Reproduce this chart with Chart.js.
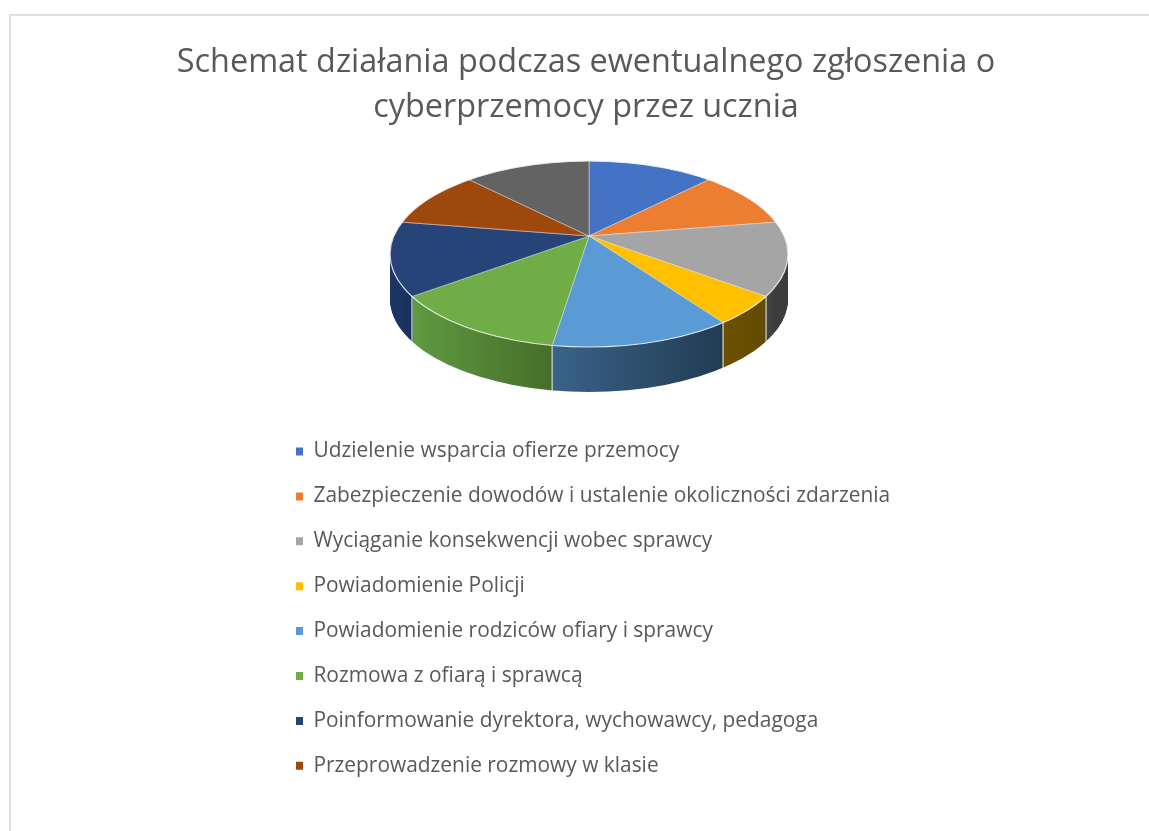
<!DOCTYPE html>
<html lang="pl">
<head>
<meta charset="utf-8">
<style>
html,body{margin:0;padding:0;background:#fff;overflow:hidden;width:1149px;height:831px}
#frame{position:absolute;left:9px;top:14px;width:1140px;height:817px;border-left:2px solid #dedede;border-top:2px solid #dedede;overflow:visible}
canvas{position:absolute;left:1px;top:0}
</style>
<script src="https://cdn.jsdelivr.net/npm/chart.js@4"></script>
</head>
<body>
<div id="frame"><canvas id="c" width="1148" height="815"></canvas></div>
<script>
const titleLines = ["Schemat działania podczas ewentualnego zgłoszenia o", "cyberprzemocy przez ucznia"];
const categories = [
  "Udzielenie wsparcia ofierze przemocy",
  "Zabezpieczenie dowodów i ustalenie okoliczności zdarzenia",
  "Wyciąganie konsekwencji wobec sprawcy",
  "Powiadomienie Policji",
  "Powiadomienie rodziców ofiary i sprawcy",
  "Rozmowa z ofiarą i sprawcą",
  "Poinformowanie dyrektora, wychowawcy, pedagoga",
  "Przeprowadzenie rozmowy w klasie",
  ""
];
const values = [5, 4, 5, 2, 5, 5, 5, 4, 5];
const colors = ["#4472C4","#ED7D31","#A5A5A5","#FFC000","#5B9BD5","#70AD47","#264478","#9E480E","#636363"];
const wallLeft  = ["#2a4576","#8f4b1d","#454545","#6b5100","#3b6288","#5f9a40","#1c3463","#5f2b08","#3c3c3c"];
const wallRight = ["#2a4576","#8f4b1d","#3c3c3c","#624a00","#213c52","#466e2a","#1a3058","#5f2b08","#3c3c3c"];

const TEXT = "#595959";
const FONT = "'Open Sans', 'Noto Sans', sans-serif";

// Projection of the flat pie into the tilted view (canvas pixels)
const view = {ax:577, ay:220, cx:577, cy:238, rx:199, ry:93, depth:45, reach:260, squash:0.47};
const legendShift = 260;

function rimPoint(angle){
  const dx = view.reach*Math.cos(angle), dy = view.reach*view.squash*Math.sin(angle);
  const oy = view.ay - view.cy, a = dx*dx/(view.rx*view.rx) + dy*dy/(view.ry*view.ry);
  const b = 2*dy*oy/(view.ry*view.ry), c = oy*oy/(view.ry*view.ry) - 1;
  const t = (-b + Math.sqrt(b*b - 4*a*c))/(2*a);
  return {x:view.ax + t*dx, y:view.ay + t*dy};
}

const tiltedPie = {
  id:"tiltedPie",
  afterLayout(chart){
    chart.legend.left += legendShift;
    chart.legend.right += legendShift;
  },
  beforeDatasetsDraw(chart){
    const ctx = chart.ctx, arcs = chart.getDatasetMeta(0).data;
    const R = arcs[0].outerRadius, px = arcs[0].x, py = arcs[0].y;
    const sx = view.reach/R, sy = sx*view.squash;
    const place = (dy)=>{
      ctx.beginPath();
      ctx.ellipse(view.cx, view.cy+dy, view.rx, view.ry, 0, 0, Math.PI*2);
      ctx.clip();
      ctx.translate(view.ax, view.ay+dy);
      ctx.scale(sx, sy);
      ctx.translate(-px, -py);
    };
    const userX = x => px + (x - view.ax)/sx;
    // side wall: stacked copies of the slices from the bottom up
    const walls = arcs.map((el,i)=>{
      const a = rimPoint(el.startAngle).x, b = rimPoint(el.endAngle).x;
      const g = ctx.createLinearGradient(userX(Math.min(a,b)),0,userX(Math.max(a,b)),0);
      g.addColorStop(0,wallLeft[i]); g.addColorStop(1,wallRight[i]);
      const p = Object.create(el);
      p.options = {backgroundColor:g,borderColor:g,borderWidth:0,borderAlign:"center",spacing:0,offset:0,borderRadius:0,circular:true,borderDash:[],borderDashOffset:0,borderJoinStyle:"round"};
      return p;
    });
    for(let dy=view.depth; dy>=1; dy--){
      ctx.save();
      place(dy);
      walls.forEach(w=>w.draw(ctx));
      ctx.restore();
    }
    // seams on the wall
    ctx.save();
    ctx.strokeStyle="rgba(235,240,240,.85)"; ctx.lineWidth=1.2;
    arcs.forEach(el=>{
      const p = rimPoint(el.startAngle);
      if(p.y > view.cy+8){
        ctx.beginPath(); ctx.moveTo(p.x,p.y);
        const yEnd = view.cy+view.depth+view.ry*Math.sqrt(Math.max(0,1-Math.pow((p.x-view.cx)/view.rx,2)));
        ctx.lineTo(p.x,yEnd); ctx.stroke();
      }
    });
    ctx.restore();
    // top face
    ctx.save();
    place(0);
    arcs.forEach(el=>el.draw(ctx));
    ctx.restore();
    ctx.save();
    ctx.strokeStyle="rgba(240,243,243,.9)"; ctx.lineWidth=1.2;
    ctx.beginPath(); ctx.ellipse(view.cx,view.cy,view.rx,view.ry,0,0,Math.PI*2); ctx.stroke();
    ctx.restore();
    return false;
  }
};

new Chart(document.getElementById("c"),{
  type:"pie",
  data:{labels:categories,datasets:[{data:values,backgroundColor:colors,borderColor:"rgba(255,255,255,.85)",borderWidth:0.55,hoverOffset:0}]},
  plugins:[tiltedPie],
  options:{
    responsive:false,
    animation:false,
    events:[],
    layout:{padding:0},
    plugins:{
      tooltip:{enabled:false},
      title:{display:true,text:titleLines,color:TEXT,padding:{top:24,bottom:287},
        font:{family:FONT,size:32.4,weight:"normal",lineHeight:1.39}},
      legend:{display:true,position:"left",align:"start",maxWidth:640,fullSize:false,
        labels:{
          boxWidth:7,boxHeight:8,padding:24,color:TEXT,
          font:{family:FONT,size:20.9,lineHeight:1.2},
          generateLabels(chart){
            return Chart.overrides.pie.plugins.legend.labels.generateLabels(chart)
              .filter(it=>it.text!=="")
              .map(it=>Object.assign(it,{lineWidth:0,strokeStyle:"transparent"}));
          }
        }}
    }
  }
});
</script>
</body>
</html>
